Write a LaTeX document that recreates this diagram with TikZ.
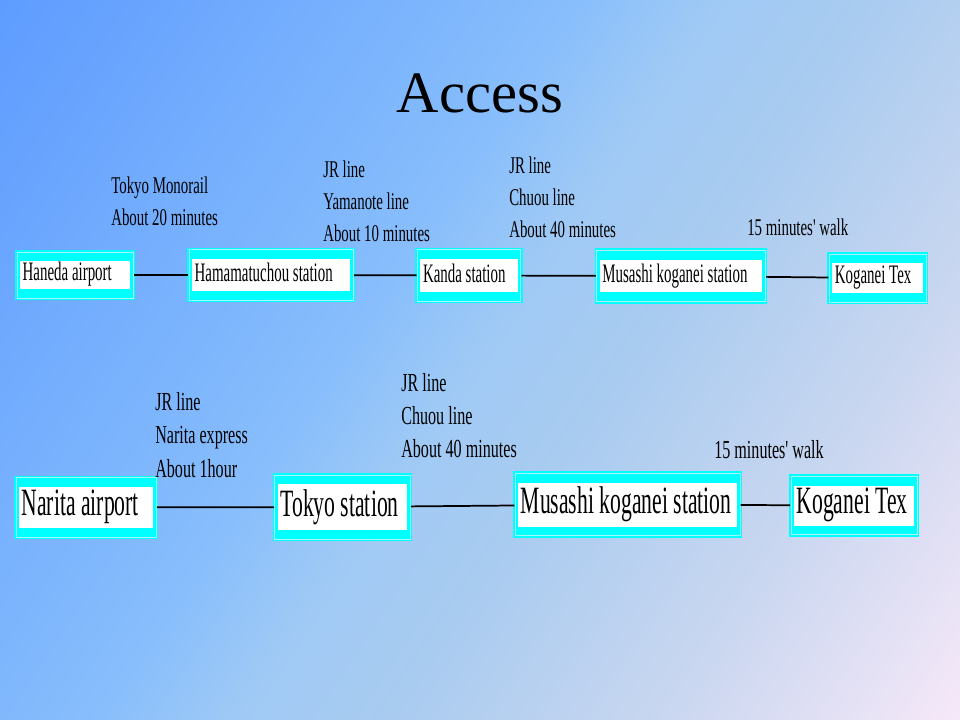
\documentclass[tikz,border=0pt]{standalone}
\usepackage{fontspec}
\setmainfont{Liberation Serif}
\newfontfamily\narrowserif[FakeStretch=0.62]{Liberation Serif}
\newfontfamily\boxserif[FakeStretch=0.56]{Liberation Serif}
\definecolor{bgtop}{HTML}{5E9CFF}
\definecolor{bgleft}{HTML}{88BEFC}
\definecolor{bgmid}{HTML}{A0CAF5}
\definecolor{bgright}{HTML}{A8CBF0}
\definecolor{bglate}{HTML}{CAD7F0}
\definecolor{bgbot}{HTML}{F6E8F8}
\definecolor{framecyan}{HTML}{00FFFF}
\definecolor{framepale}{HTML}{A6F6FF}
\pgfdeclarehorizontalshading{slidefade}{100bp}{color(0bp)=(bgtop); color(15.3bp)=(bgtop); color(43.1bp)=(bgleft); color(50bp)=(bgmid); color(56.9bp)=(bgright); color(70.8bp)=(bglate); color(84.7bp)=(bgbot); color(100bp)=(bgbot)}
\newcommand{\whitebox}[3]{{\setlength{\fboxsep}{0pt}\colorbox{white}{\makebox[#1][l]{\rule[-.3\dimexpr#2\relax]{0pt}{#2}\hspace{2pt}#3}}}}
\tikzset{
	station/.style={fill=framecyan, draw=framecyan, double=framepale, line width=1.1pt, double distance=0.6pt, inner xsep=2.3pt, inner ysep=7pt},
	small/.style={font=\boxserif\fontsize{20}{20}\selectfont},
	big/.style={font=\boxserif\fontsize{29}{29}\selectfont},
	note/.style={anchor=west, align=left, inner sep=0pt, font=\narrowserif\fontsize{18}{24}\selectfont},
	bignote/.style={note, font=\narrowserif\fontsize{19.5}{25}\selectfont},
	link/.style={line width=1.3pt}
}
\begin{document}
\begin{tikzpicture}[x=0.75pt,y=-0.75pt]
		\useasboundingbox (0,0) rectangle (960,720);
		\shade [shading=slidefade, shading angle=-33.7] (0,0) rectangle (960,720);
		\node (title) at (480,93) {\fontsize{44}{44}\selectfont Access};
		\node [station, small] (haneda) at (75,275) {\whitebox{82.5pt}{20.5pt}{Haneda airport}};
		\node [station, small] (hama) at (271,275) {\whitebox{118.5pt}{24pt}{Hamamatuchou station}};
		\node [station, small] (kanda) at (469,275.5) {\whitebox{73pt}{25pt}{Kanda station}};
		\node [station, small] (musashi) at (681,276) {\whitebox{122pt}{24.5pt}{Musashi koganei station}};
		\node [station, small] (koganei) at (877.5,278) {\whitebox{68pt}{22pt}{Koganei Tex}};
		\draw [link] (haneda) -- (hama);
		\draw [link] (hama) -- (kanda);
		\draw [link] (kanda) -- (musashi);
		\draw [link] (musashi) -- (koganei);
		\node [note] (monorail) at (111,201.5) {Tokyo Monorail\\About 20 minutes};
		\node [note] (yamanote) at (323,201.5) {JR line\\Yamanote line\\About 10 minutes};
		\node [note] (chuou) at (509,197) {JR line\\Chuou line\\About 40 minutes};
		\node [note] (walk) at (747,227) {15 minutes' walk};
		\node [station, big] (narita) at (86,507.5) {\whitebox{100.5pt}{31pt}{Narita airport}};
		\node [station, big] (tokyo) at (342.5,507) {\whitebox{97pt}{34pt}{Tokyo station}};
		\node [station, big] (musashitwo) at (627.5,504.5) {\whitebox{164pt}{33pt}{Musashi koganei station}};
		\node [station, big] (koganeitwo) at (854,505.5) {\whitebox{90pt}{30pt}{Koganei Tex}};
		\draw [link] (narita) -- (tokyo);
		\draw [link] (tokyo) -- (musashitwo);
		\draw [link] (musashitwo) -- (koganeitwo);
		\node [bignote] (express) at (155,435) {JR line\\Narita express\\About 1hour};
		\node [bignote] (chuoutwo) at (401,415.5) {JR line\\Chuou line\\About 40 minutes};
		\node [bignote] (walktwo) at (714,450) {15 minutes' walk};
	\end{tikzpicture}
\end{document}
